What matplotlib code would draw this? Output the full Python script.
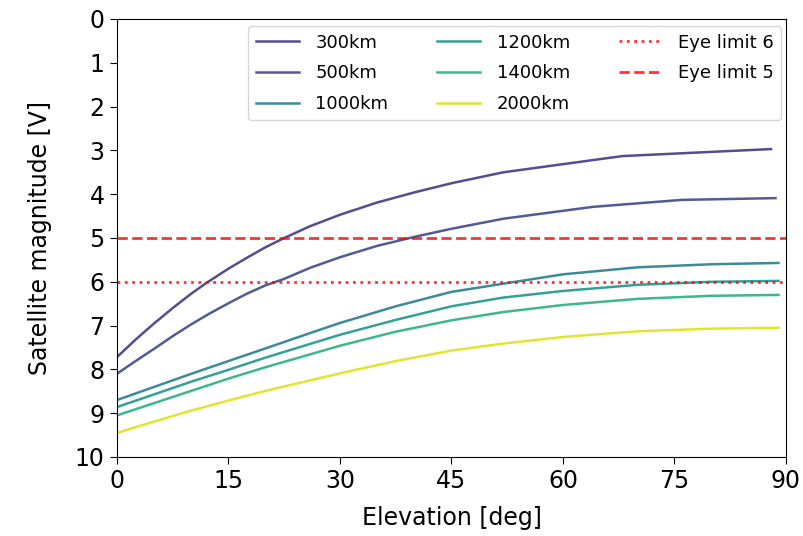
import matplotlib
matplotlib.use("Agg")
import matplotlib.pyplot as plt
import numpy as np

# elevation [deg] vs magnitude [V] per altitude
altitudes = ["300km", "500km", "1000km", "1200km", "1400km", "2000km"]

elev_300 = [0, 2.5, 5, 7.5, 10, 12, 15, 17.5, 20, 22.5, 26, 30, 35, 40, 45, 52, 68, 88]
mag_300 = [7.72, 7.32, 6.95, 6.60, 6.27, 6.03, 5.70, 5.45, 5.21, 5.0, 4.73, 4.47,
           4.19, 3.96, 3.75, 3.50, 3.13, 2.97]

elev_500 = [0, 2.5, 5, 7.5, 10, 12.5, 15, 17.5, 20, 22.4, 26, 30, 35, 40.4, 45, 52, 64, 76, 88.6]
mag_500 = [8.10, 7.81, 7.53, 7.24, 6.97, 6.72, 6.49, 6.27, 6.08, 5.94, 5.68, 5.44,
           5.18, 4.96, 4.79, 4.56, 4.29, 4.13, 4.09]

elev_1000 = [0, 5, 10, 15, 20, 26, 30, 37.5, 45, 54, 60, 70, 80, 89]
mag_1000 = [8.70, 8.40, 8.10, 7.81, 7.52, 7.17, 6.94, 6.56, 6.23, 5.99, 5.83, 5.67, 5.60, 5.57]

elev_1200 = [0, 5, 10, 15, 20, 30, 37.5, 45, 52, 60, 70, 80, 89]
mag_1200 = [8.86, 8.57, 8.28, 8.01, 7.73, 7.21, 6.87, 6.56, 6.36, 6.21, 6.07, 6.00, 5.98]

elev_1400 = [0, 5, 10, 15, 20, 30, 37.5, 45, 52, 60, 70, 80, 89]
mag_1400 = [9.05, 8.77, 8.49, 8.21, 7.95, 7.46, 7.14, 6.88, 6.69, 6.53, 6.39, 6.32, 6.30]

elev_2000 = [0, 5, 10, 15, 20, 30, 37.5, 45, 52, 60, 70, 80, 89]
mag_2000 = [9.45, 9.19, 8.94, 8.71, 8.49, 8.09, 7.81, 7.57, 7.41, 7.26, 7.13, 7.07, 7.05]

elevs = [elev_300, elev_500, elev_1000, elev_1200, elev_1400, elev_2000]
mags = [mag_300, mag_500, mag_1000, mag_1200, mag_1400, mag_2000]

eye_limits = [6, 5]
eye_styles = [":", "--"]

cmap = plt.get_cmap("viridis")
cpos = [0.17, 0.22, 0.42, 0.53, 0.63, 0.95]

fig = plt.figure(figsize=(8.04, 5.36), dpi=100)
ax = fig.add_axes([0.1455, 0.1474, 0.832, 0.8172])

for lab, x, y, c in zip(altitudes, elevs, mags, cpos):
    ax.plot(x, y, color=cmap(c), lw=1.8, alpha=0.9, label=lab)

for lim, ls in zip(eye_limits, eye_styles):
    ax.axhline(lim, color="r", ls=ls, lw=2, alpha=0.8, label=f"Eye limit {lim}")

ax.set_xlim(0, 90)
ax.set_ylim(10, 0)
ax.set_xticks(np.arange(0, 91, 15))
ax.set_yticks(np.arange(0, 11, 1))
ax.tick_params(labelsize=17, length=5, pad=4)
ax.set_xlabel("Elevation [deg]", fontsize=17, labelpad=9)
ax.set_ylabel("Satellite magnitude [V]", fontsize=17, labelpad=16)

ax.legend(ncol=3, loc="upper right", fontsize=13, handlelength=2.4,
          labelspacing=0.7, columnspacing=2.7, handletextpad=0.9,
          bbox_to_anchor=(0.993, 0.983), borderaxespad=0)

fig.savefig("out.png", dpi=100)
